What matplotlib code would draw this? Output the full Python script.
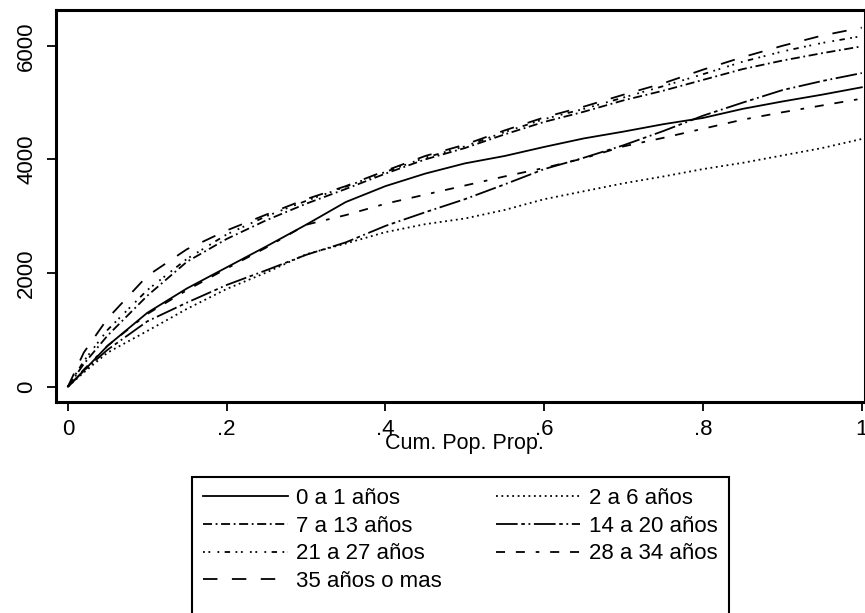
import matplotlib
matplotlib.use("Agg")
import matplotlib.pyplot as plt
from matplotlib.patches import Rectangle
import numpy as np

plt.rcParams['font.family'] = ['Liberation Sans', 'DejaVu Sans']

x = [0, 0.02, 0.05, 0.1, 0.15, 0.2, 0.25, 0.3, 0.35, 0.4, 0.45, 0.5,
     0.55, 0.6, 0.65, 0.7, 0.75, 0.8, 0.85, 0.9, 0.95, 1.0]

y_0a1 = [0, 280, 720, 1300, 1730, 2100, 2470, 2850, 3250, 3530, 3750, 3930,
         4060, 4220, 4370, 4490, 4620, 4730, 4890, 5020, 5140, 5270]
y_2a6 = [0, 250, 600, 980, 1370, 1720, 2010, 2330, 2520, 2720, 2860, 2960,
         3110, 3300, 3440, 3580, 3700, 3830, 3940, 4070, 4200, 4360]
y_7a13 = [0, 400, 900, 1600, 2200, 2600, 2930, 3220, 3480, 3750, 4000, 4200,
          4440, 4660, 4840, 5040, 5210, 5400, 5590, 5740, 5870, 5990]
y_14a20 = [0, 280, 650, 1150, 1480, 1790, 2050, 2320, 2540, 2830, 3070, 3300,
           3560, 3830, 4030, 4250, 4500, 4770, 5000, 5220, 5380, 5520]
y_21a27 = [0, 450, 1000, 1700, 2250, 2680, 3000, 3270, 3520, 3780, 4030, 4230,
           4480, 4710, 4890, 5090, 5290, 5500, 5720, 5900, 6050, 6170]
y_28a34 = [0, 300, 720, 1280, 1700, 2080, 2450, 2850, 3020, 3220, 3380, 3540,
           3700, 3850, 4020, 4230, 4380, 4540, 4700, 4830, 4950, 5070]
y_35mas = [0, 600, 1200, 1950, 2420, 2750, 3030, 3300, 3530, 3800, 4060, 4260,
           4510, 4740, 4930, 5140, 5340, 5580, 5800, 6000, 6180, 6320]

labels = ["0 a 1 años", "2 a 6 años", "7 a 13 años", "14 a 20 años",
          "21 a 27 años", "28 a 34 años", "35 años o mas"]
xticks = [0, 0.2, 0.4, 0.6, 0.8, 1.0]
xticklabels = ["0", ".2", ".4", ".6", ".8", "1"]
yticks = [0, 2000, 4000, 6000]
yticklabels = ["0", "2000", "4000", "6000"]

series = [y_0a1, y_2a6, y_7a13, y_14a20, y_21a27, y_28a34, y_35mas]
styles = ['-', (0, (1, 2)), (0, (5, 2, 1, 2)), (0, (12, 2, 2, 2, 1, 2)),
          (0, (1, 2, 1, 4, 1, 3, 3, 3, 1, 2, 1, 4)), (0, (5, 6, 5, 6, 2, 6)),
          (0, (8, 8))]

fig = plt.figure(figsize=(8.65, 6.13), dpi=100)
ax = fig.add_axes([56 / 865, 211 / 613, 809 / 865, 392 / 613])

handles = []
for ys, ls, lab in zip(series, styles, labels):
    h, = ax.plot(x, ys, color='black', linestyle=ls, linewidth=1.3, label=lab)
    handles.append(h)

ax.set_xlim(-0.015, 1.004)
ax.set_ylim(-270, 6630)
ax.set_xticks(xticks)
ax.set_xticklabels(xticklabels)
ax.set_yticks(yticks)
ax.set_yticklabels(yticklabels, rotation=90, va='center')
ax.tick_params(axis='both', direction='out', length=6.5, width=1.3,
               labelsize=16, colors='black')
ax.tick_params(axis='x', pad=5.5)
ax.tick_params(axis='y', pad=7)
for s in ax.spines.values():
    s.set_linewidth(2.2)
    s.set_color('black')
ax.set_xlabel("Cum. Pop. Prop.", fontsize=15.5)
ax.xaxis.set_label_coords(0.505, -0.078)

order = [0, 2, 4, 6, 1, 3, 5]
leg = fig.legend([handles[i] for i in order], [labels[i] for i in order],
                 ncol=2, loc='upper left', bbox_to_anchor=(192 / 865, (613 - 477) / 613),
                 frameon=False, fontsize=16, handlelength=3.8,
                 handletextpad=0.4, columnspacing=2.4, borderpad=0.5,
                 labelspacing=0.3, borderaxespad=0)

# legend frame whose lower edge runs past the bottom of the image, as in the reference
fig.canvas.draw()
bb = leg.get_window_extent().transformed(fig.transFigure.inverted())
frame = Rectangle((bb.x0, -0.05), bb.width, bb.y1 + 0.05, transform=fig.transFigure,
                  fill=False, edgecolor='black', linewidth=1.5)
fig.add_artist(frame)

fig.savefig("out.png", dpi=100, facecolor='white')
